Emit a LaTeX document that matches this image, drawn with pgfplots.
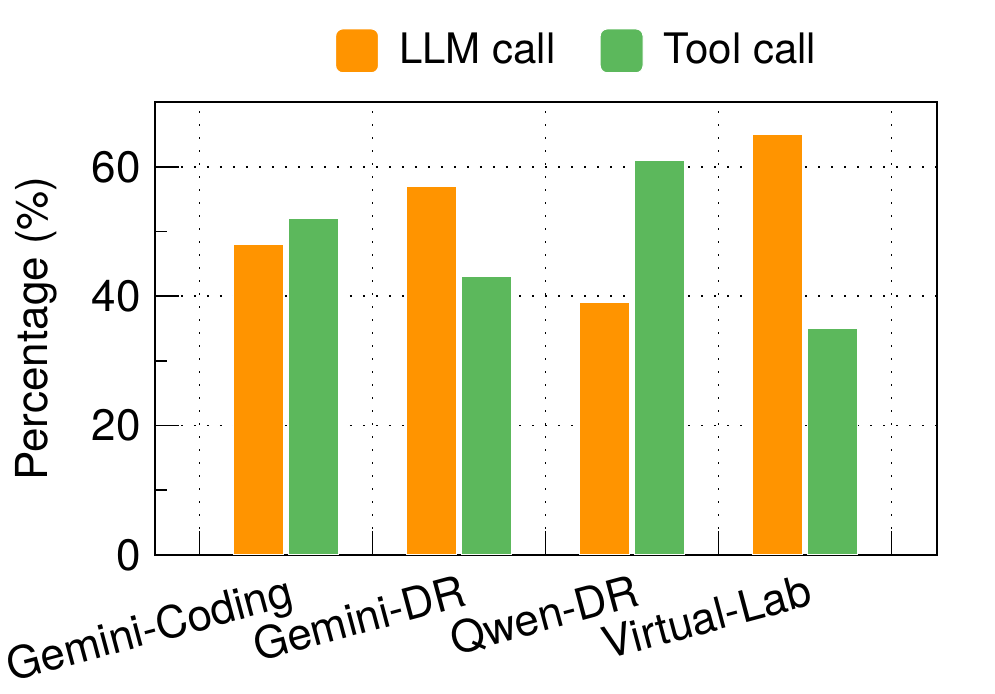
\documentclass[border=0pt]{standalone}
\usepackage{fontspec}
\setmainfont{TeX Gyre Heros}
\usepackage{pgfplots}
\pgfplotsset{compat=1.18}

\definecolor{llmorange}{HTML}{FF9400}
\definecolor{toolgreen}{HTML}{5CB85C}

\begin{document}
\begin{tikzpicture}
\begin{axis}[
    name=ax,
    at={(0,0)}, anchor=south west,
    scale only axis,
    width=195.5pt, height=113.25pt,
    font=\fontsize{11}{13}\selectfont,
    /pgf/number format/assume math mode=true,
    ymin=0, ymax=70,
    xmin=-0.757, xmax=3.763,
    ytick={0,20,40,60},
    minor ytick={10,30,50},
    % gridlines/ticks sit between the groups
    xtick={-0.5,0.5,1.5,2.5,3.5},
    xticklabels={},
    extra x ticks={0,1,2,3},
    extra x tick labels={Gemini-Coding,Gemini-DR,Qwen-DR,Virtual-Lab},
    extra x tick style={grid=none, tick style={draw=none},
        tick label style={rotate=15, anchor=north east, xshift=2.5pt, yshift=-1pt}},
    xtick pos=left, ytick pos=left,
    tick align=inside,
    major tick length=6pt, minor tick length=3pt,
    tick style={black, line width=0.4pt},
    axis line style={line width=0.45pt},
    grid=major,
    major grid style={black, line width=0.45pt, dash pattern=on 0.45pt off 2.8pt},
    ylabel={Percentage (\%)},
    y label style={at={(axis description cs:0,0.5)}, anchor=center, yshift=29.75pt},
    legend columns=2,
    legend style={draw=none, fill=none, at={(0.543,1.113)}, anchor=center,
        font=\fontsize{10.5}{13}\selectfont,
        /tikz/every even column/.append style={column sep=9pt}},
    legend image code/.code={\fill[#1, rounded corners=1.8pt] (0pt,-5.5pt) rectangle (10.75pt,5.5pt);
        \path (13.75pt,0pt);},
]
\addplot[ybar, bar width=12.5pt, fill=llmorange, draw=white, line width=0.3pt, bar shift=-6.85pt]
    coordinates {(0,48) (1,57) (2,39) (3,65)};
\addlegendentry{LLM call}
\addplot[ybar, bar width=12.5pt, fill=toolgreen, draw=white, line width=0.3pt, bar shift=6.85pt]
    coordinates {(0,52) (1,43) (2,61) (3,35)};
\addlegendentry{Tool call}
\end{axis}
\pgfresetboundingbox
\path ([xshift=-38.75pt, yshift=-34.75pt]ax.south west) rectangle ([xshift=210pt, yshift=138.75pt]ax.south west);
\end{tikzpicture}
\end{document}
